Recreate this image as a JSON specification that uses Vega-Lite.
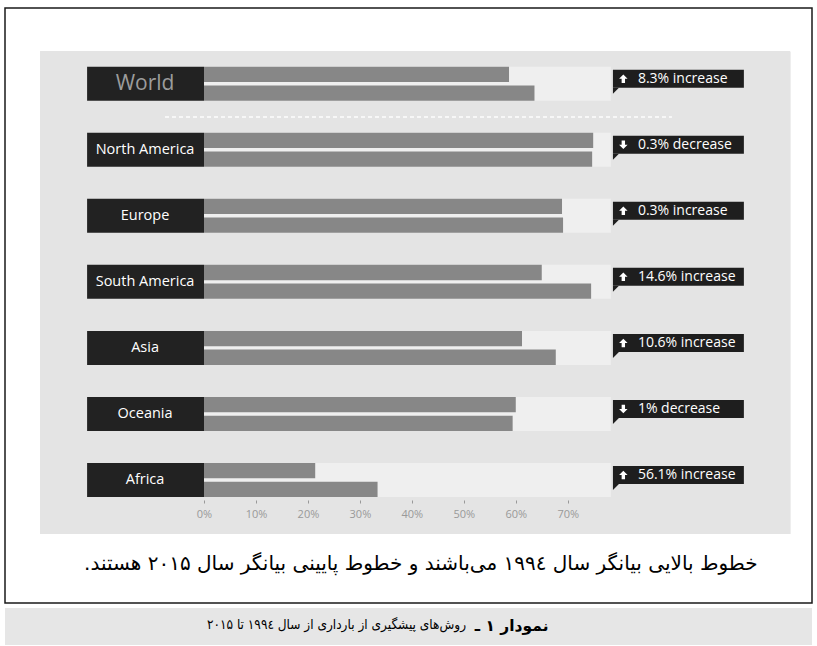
{
  "$schema": "https://vega.github.io/schema/vega-lite/v6.json",
  "width": 807,
  "height": 595,
  "autosize": {"type": "none"},
  "padding": {"left": 5, "top": 8, "right": 5, "bottom": 43},
  "background": "white",
  "config": {"view": {"stroke": "#1a1a1a", "strokeWidth": 1.5, "fill": "white"}, "font": "Open Sans"},
  "data": {"values": [
    {"region": "World", "y1994": 58.7, "y2015": 63.6, "change": "8.3% increase", "dir": "up"},
    {"region": "North America", "y1994": 74.9, "y2015": 74.7, "change": "0.3% decrease", "dir": "down"},
    {"region": "Europe", "y1994": 68.9, "y2015": 69.1, "change": "0.3% increase", "dir": "up"},
    {"region": "South America", "y1994": 65.0, "y2015": 74.5, "change": "14.6% increase", "dir": "up"},
    {"region": "Asia", "y1994": 61.2, "y2015": 67.7, "change": "10.6% increase", "dir": "up"},
    {"region": "Oceania", "y1994": 60.0, "y2015": 59.4, "change": "1% decrease", "dir": "down"},
    {"region": "Africa", "y1994": 21.4, "y2015": 33.4, "change": "56.1% increase", "dir": "up"}
  ]},
  "title": {
    "text": "روش‌های پیشگیری از بارداری از سال ۱۹۹٤ تا ۲۰۱۵",
    "orient": "bottom", "anchor": "start", "frame": "group", "align": "right",
    "dx": 461, "offset": -20, "baseline": "middle",
    "font": "DejaVu Sans Condensed, DejaVu Sans", "fontSize": 13.5, "fontWeight": "normal", "color": "#000000"
  },
  "layer": [
    {
      "mark": {"type": "rect", "color": "#e4e4e4"},
      "encoding": {
        "x": {"datum": -31.56, "type": "quantitative", "scale": {"domain": [-38.3, 117.01], "nice": false, "zero": false}},
        "x2": {"datum": 112.8},
        "y": {"datum": "World", "type": "nominal", "bandPosition": -0.45,
              "scale": {"domain": ["World", "North America", "Europe", "South America", "Asia", "Oceania", "Africa"], "range": [58.7, 489], "paddingInner": 0.485, "paddingOuter": 0}},
        "y2": {"datum": "Africa", "bandPosition": 2.088}
      }
    },
    {
      "mark": {"type": "rect", "color": "#e6e6e6", "clip": false},
      "encoding": {
        "x": {"datum": -38.3, "type": "quantitative"},
        "x2": {"datum": 117.01},
        "y": {"datum": "Africa", "type": "nominal", "bandPosition": 4.265},
        "y2": {"datum": "Africa", "bandPosition": 5.353}
      }
    },
    {
      "mark": {"type": "rule", "color": "#f7f7f7", "strokeWidth": 1.5, "strokeDash": [4, 3], "yOffset": 33.3},
      "encoding": {
        "x": {"datum": -7.5, "type": "quantitative"},
        "x2": {"datum": 90},
        "y": {"datum": "World", "type": "nominal"}
      }
    },
    {
      "mark": {"type": "bar", "color": "#efefef"},
      "encoding": {
        "x": {"datum": 0, "type": "quantitative"},
        "x2": {"datum": 78.3},
        "y": {"field": "region", "type": "nominal"}
      }
    },
    {
      "mark": {"type": "bar", "color": "#222222"},
      "encoding": {
        "x": {"datum": -22.5, "type": "quantitative"},
        "x2": {"datum": 0},
        "y": {"field": "region", "type": "nominal"}
      }
    },
    {
      "transform": [{"fold": ["y1994", "y2015"], "as": ["year", "value"]}],
      "mark": {"type": "bar", "color": "#878787"},
      "encoding": {
        "x": {"field": "value", "type": "quantitative",
              "axis": {"values": [0, 10, 20, 30, 40, 50, 60, 70], "labelExpr": "datum.value + '%'", "orient": "bottom", "offset": -103,
                       "zindex": 1, "domain": false, "grid": false, "ticks": true, "labels": true, "tickSize": 3, "tickColor": "#999999", "labelColor": "#999999",
                       "labelFontSize": 11, "labelFont": "Open Sans", "labelPadding": 5,
                       "title": "خطوط بالایی بیانگر سال ۱۹۹٤ می‌باشند و خطوط پایینی بیانگر سال ۲۰۱۵ هستند.\u200f",
                       "titleX": 752, "titleY": 63, "titleAlign": "right", "titleBaseline": "middle", "titleAnchor": null,
                       "titleFont": "DejaVu Sans", "titleFontSize": 20, "titleFontWeight": "normal", "titleColor": "#000000"}},
        "x2": {"datum": 0},
        "y": {"field": "region", "type": "nominal",
              "axis": {"zindex": 1, "labels": false, "ticks": false, "domain": false, "grid": false,
                       "title": "نمودار ۱ ـ", "titleAngle": 0, "titleX": 543, "titleY": 617, "titleAlign": "right", "titleBaseline": "middle",
                       "titleFont": "DejaVu Sans", "titleFontWeight": "bold", "titleFontSize": 15.5, "titleColor": "#000000"}},
        "yOffset": {"field": "year", "type": "nominal", "scale": {"paddingInner": 0.18, "paddingOuter": 0}}
      }
    },
    {
      "transform": [{"filter": "datum.region != 'World'"}],
      "mark": {"type": "text", "color": "#ffffff", "fontSize": 14.5, "font": "Open Sans", "align": "center", "baseline": "middle"},
      "encoding": {
        "x": {"datum": -11.35, "type": "quantitative"},
        "y": {"field": "region", "type": "nominal"},
        "text": {"field": "region"}
      }
    },
    {
      "transform": [{"filter": "datum.region == 'World'"}],
      "mark": {"type": "text", "color": "#9c9c9c", "fontSize": 21, "font": "Open Sans", "align": "center", "baseline": "middle"},
      "encoding": {
        "x": {"datum": -11.35, "type": "quantitative"},
        "y": {"field": "region", "type": "nominal"},
        "text": {"field": "region"}
      }
    },
    {
      "mark": {"type": "bar", "color": "#1e1e1e", "height": 18, "yOffset": -5},
      "encoding": {
        "x": {"datum": 78.7, "type": "quantitative"},
        "x2": {"datum": 103.9},
        "y": {"field": "region", "type": "nominal"}
      }
    },
    {
      "mark": {"type": "point", "shape": "M-1,-1L-1,1L1,-1Z", "filled": true, "opacity": 1, "color": "#1e1e1e", "size": 36, "yOffset": 7},
      "encoding": {
        "x": {"datum": 79.28, "type": "quantitative"},
        "y": {"field": "region", "type": "nominal"}
      }
    },
    {
      "mark": {"type": "point", "filled": true, "opacity": 1, "color": "#ffffff", "size": 72, "yOffset": -5},
      "encoding": {
        "x": {"datum": 80.7, "type": "quantitative"},
        "y": {"field": "region", "type": "nominal"},
        "shape": {"field": "dir", "type": "nominal", "legend": null,
                  "scale": {"domain": ["up", "down"], "range": ["M0,-1L1,0L0.4,0L0.4,1L-0.4,1L-0.4,0L-1,0Z", "M0,1L1,0L0.4,0L0.4,-1L-0.4,-1L-0.4,0L-1,0Z"]}}
      }
    },
    {
      "mark": {"type": "text", "color": "#ffffff", "fontSize": 14, "font": "Open Sans", "align": "left", "baseline": "middle", "yOffset": -5},
      "encoding": {
        "x": {"datum": 83.5, "type": "quantitative"},
        "y": {"field": "region", "type": "nominal"},
        "text": {"field": "change"}
      }
    }
  ]
}
